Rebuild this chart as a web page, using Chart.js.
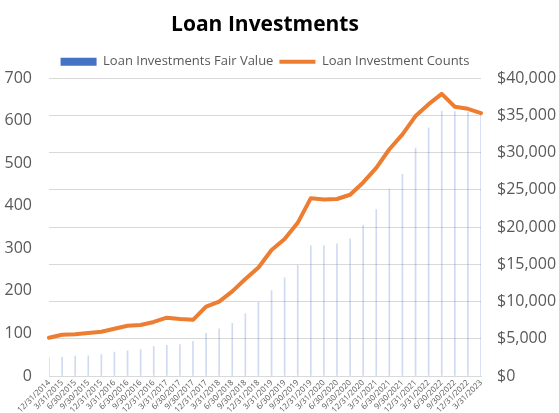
<!DOCTYPE html>
<html>
<head>
<meta charset="utf-8">
<script src="https://cdn.jsdelivr.net/npm/chart.js@4/dist/chart.umd.min.js"></script>
<style>
html,body{margin:0;padding:0;background:#fff;}
#wrap{width:559px;height:413px;}
</style>
</head>
<body>
<div id="wrap"><canvas id="c" width="559" height="413"></canvas></div>
<script>
const categories = ["12/31/2014","3/31/2015","6/30/2015","9/30/2015","12/31/2015","3/31/2016","6/30/2016","9/30/2016","12/31/2016","3/31/2017","6/30/2017","9/30/2017","12/31/2017","3/31/2018","6/30/2018","9/30/2018","12/31/2018","3/31/2019","6/30/2019","9/30/2019","12/31/2019","3/31/2020","6/30/2020","9/30/2020","12/31/2020","3/31/2021","6/30/2021","9/30/2021","12/31/2021","3/31/2022","6/30/2022","9/30/2022","12/31/2022","3/31/2023"];
const fairValue = [2400,2530,2660,2700,2890,3200,3380,3550,4000,4130,4220,4660,5770,6350,7060,8390,9900,11460,13200,14880,17480,17480,17750,18420,20250,22350,25120,27100,30600,33350,35600,35500,35400,35100];
const investmentCounts = [90,97,98,101,104,111,118,120,127,137,134,132,163,175,199,228,255,296,322,360,418,415,416,426,455,489,533,568,611,639,663,633,628,618];
const countTicks = [0,100,200,300,400,500,600,700];
const valueTicks = [0,5000,10000,15000,20000,25000,30000,35000,40000];

const FONT = "'Open Sans', 'Liberation Sans', sans-serif";
const GRAY = '#595959';

new Chart(document.getElementById('c'), {
  data: {
    labels: categories,
    datasets: [
      {
        type: 'bar',
        label: 'Loan Investments Fair Value',
        data: fairValue,
        yAxisID: 'y1',
        backgroundColor: 'rgba(68,114,196,0.26)',
        barThickness: 1,
        order: 1
      },
      {
        type: 'line',
        label: 'Loan Investment Counts',
        data: investmentCounts,
        yAxisID: 'y',
        borderColor: '#ED7D31',
        backgroundColor: '#ED7D31',
        borderWidth: 4,
        pointRadius: 0,
        tension: 0,
        borderJoinStyle: 'round',
        borderCapStyle: 'round',
        order: 0
      }
    ]
  },
  options: {
    responsive: false,
    animation: false,
    layout: { padding: { top: 0, left: 0, right: 0, bottom: 0 } },
    plugins: {
      title: {
        display: true,
        fullSize: false,
        text: 'Loan Investments',
        color: '#000',
        font: { family: FONT, size: 21, weight: 'bold' },
        padding: { top: 12, bottom: 12 }
      },
      legend: {
        display: true,
        fullSize: false,
        labels: {
          color: GRAY,
          font: { family: FONT, size: 13 },
          usePointStyle: true,
          pointStyleWidth: 36,
          boxHeight: 8,
          padding: 6,
          sort: (a, b) => a.datasetIndex - b.datasetIndex,
          generateLabels: (chart) => {
            const items = Chart.defaults.plugins.legend.labels.generateLabels(chart);
            items.forEach(it => {
              if (it.datasetIndex === 0) {
                it.pointStyle = 'rect';
                it.fillStyle = '#4472C4';
                it.strokeStyle = '#4472C4';
                it.lineWidth = 0;
              } else {
                it.pointStyle = 'line';
                it.strokeStyle = '#ED7D31';
                it.lineWidth = 4;
              }
            });
            return items;
          }
        }
      },
      tooltip: { enabled: false }
    },
    scales: {
      x: {
        offset: false,
        grid: { display: false, drawTicks: false },
        border: { display: true, color: '#d9d9d9' },
        ticks: {
          autoSkip: false,
          maxRotation: 45,
          minRotation: 45,
          color: GRAY,
          padding: 2,
          font: { family: FONT, size: 8 }
        },
        afterFit: (s) => { s.height = 37; }
      },
      y: {
        position: 'left',
        min: 0,
        max: 700,
        afterBuildTicks: (s) => { s.ticks = countTicks.map(v => ({ value: v })); },
        grid: { display: false, drawTicks: false },
        border: { display: false },
        ticks: {
          color: GRAY,
          padding: 17,
          font: { family: FONT, size: 16 }
        },
        afterFit: (s) => { s.width = 49; }
      },
      y1: {
        position: 'right',
        min: 0,
        max: 40000,
        afterBuildTicks: (s) => { s.ticks = valueTicks.map(v => ({ value: v })); },
        grid: { display: true, color: '#d9d9d9', lineWidth: 1, drawTicks: false },
        border: { display: false },
        ticks: {
          color: GRAY,
          padding: 16,
          font: { family: FONT, size: 16 },
          callback: (v) => '$' + Number(v).toLocaleString('en-US')
        },
        afterFit: (s) => { s.width = 78; }
      }
    }
  }
});
</script>
</body>
</html>
